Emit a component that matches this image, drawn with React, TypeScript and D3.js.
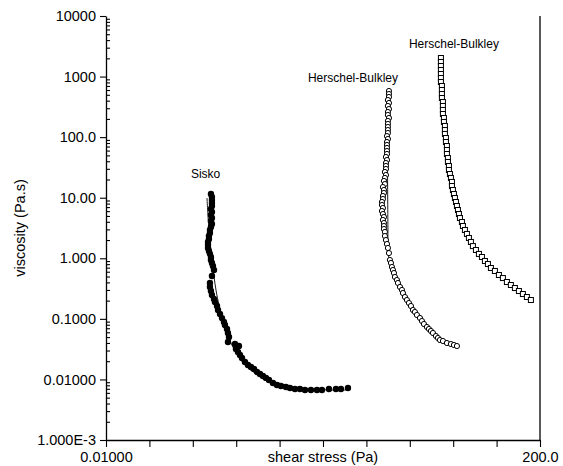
import React, { useRef, useEffect } from 'react'
import * as d3 from 'd3'

// [shear stress (Pa), viscosity (Pa.s)]
const siskoPoints: [number, number][] = [
  [0.1097, 11.5], [0.1122, 10.3], [0.1122, 9.17], [0.1122, 8.18], [0.1122, 7.3], [0.1097, 6.51],
  [0.1122, 5.81], [0.1097, 5.18], [0.1122, 4.62], [0.1097, 4.13], [0.1122, 3.68], [0.1097, 3.28],
  [0.1072, 2.93], [0.1072, 2.61], [0.1048, 2.33], [0.1048, 2.08], [0.1025, 1.86], [0.1025, 1.66],
  [0.1025, 1.48], [0.1048, 1.32], [0.1072, 1.18], [0.1097, 1.05], [0.1097, 0.937], [0.1122, 0.836],
  [0.1148, 0.746], [0.1175, 0.64], [0.1122, 0.51], [0.1072, 0.391], [0.1072, 0.336], [0.1097, 0.288],
  [0.1122, 0.2475], [0.1175, 0.213], [0.1202, 0.19], [0.1259, 0.163], [0.1288, 0.14], [0.1348, 0.12],
  [0.1411, 0.103], [0.1476, 0.0887], [0.151, 0.0792], [0.1581, 0.068], [0.1617, 0.0584], [0.1655, 0.0501],
  [0.1617, 0.0415], [0.1897, 0.0384], [0.2078, 0.0356], [0.1941, 0.0318], [0.2032, 0.0284], [0.2127, 0.0253],
  [0.2226, 0.0226], [0.2384, 0.0194], [0.2552, 0.0173], [0.2733, 0.016], [0.2927, 0.0149], [0.3133, 0.0133],
  [0.3356, 0.0123], [0.3593, 0.0114], [0.3848, 0.0106], [0.4121, 0.00978], [0.4514, 0.00873], [0.4946, 0.00809],
  [0.5418, 0.00779], [0.6072, 0.00749], [0.6653, 0.00722], [0.7457, 0.00695], [0.8358, 0.00695], [0.9369, 0.00669],
  [1.074, 0.00669], [1.232, 0.00669], [1.381, 0.00669], [1.62, 0.00695], [1.9, 0.00695], [2.13, 0.00695],
  [2.499, 0.00722],
]

const siskoFit: [number, number][] = [
  [0.1002, 9.89], [0.1048, 2.93], [0.1122, 0.937], [0.123, 0.3], [0.1317, 0.1693], [0.1411, 0.103],
  [0.1545, 0.0655], [0.1732, 0.0399], [0.1986, 0.0263], [0.233, 0.018], [0.2796, 0.01377], [0.3512, 0.01096],
  [0.4724, 0.00907], [0.6653, 0.00779], [1.05, 0.00695], [1.657, 0.00669], [2.388, 0.00669],
]

const hb1Points: [number, number][] = [
  [6.37, 578], [6.37, 515], [6.37, 460], [6.22, 410], [6.37, 366], [6.22, 327], [6.37, 291], [6.22, 260],
  [6.22, 232], [6.37, 207], [6.22, 185], [6.22, 165], [6.22, 147], [6.22, 131], [6.22, 117], [6.09, 104],
  [6.22, 93.2], [6.09, 83.1], [6.09, 74.2], [6.09, 66.2], [6.09, 59.0], [6.09, 52.7], [5.95, 47.0], [6.09, 41.9],
  [5.95, 37.4], [5.95, 33.4], [5.95, 29.8], [5.81, 26.6], [5.95, 23.7], [5.81, 21.2], [5.68, 18.9], [5.81, 16.8],
  [5.55, 15.0], [5.68, 13.4], [5.68, 11.96], [5.55, 10.67], [5.55, 9.52], [5.43, 8.5], [5.43, 7.58], [5.55, 6.76],
  [5.43, 6.03], [5.55, 5.38], [5.68, 4.8], [5.55, 4.29], [5.68, 3.82], [5.68, 3.41], [5.68, 3.04], [5.81, 2.72],
  [5.81, 2.33], [5.95, 2.0], [6.09, 1.72], [6.22, 1.48], [6.37, 1.22], [6.51, 0.937], [6.67, 0.836], [6.82, 0.718],
  [6.98, 0.64], [7.14, 0.571], [7.3, 0.491], [7.64, 0.438], [7.82, 0.391], [8.19, 0.336], [8.57, 0.3], [8.76, 0.267],
  [9.17, 0.2295], [9.6, 0.2048], [10.05, 0.1827], [10.52, 0.163], [11.01, 0.14], [11.52, 0.1297], [12.06, 0.1158],
  [12.92, 0.1033], [13.52, 0.0921], [14.15, 0.0822], [15.15, 0.0734], [15.86, 0.068], [16.6, 0.063], [17.38, 0.0584],
  [18.61, 0.0521], [19.48, 0.0483], [20.39, 0.0447], [21.83, 0.0431], [23.91, 0.0399], [26.19, 0.0384],
  [28.05, 0.037], [30.04, 0.0356],
]

const hb1Fit: [number, number][] = [
  [6.09, 535], [6.22, 3.28], [6.25, 1.3], [6.5, 0.85], [7.0, 0.6], [7.64, 0.438], [8.76, 0.26], [10.28, 0.17],
  [12.34, 0.111], [15.15, 0.075], [17.38, 0.06], [20.39, 0.048], [23.9, 0.041], [27.4, 0.037],
]

const hb2Points: [number, number][] = [
  [20.85, 2026], [20.85, 1740], [20.85, 1494], [20.85, 1284], [20.85, 1103], [20.85, 947], [20.85, 813],
  [21.33, 699], [21.33, 600], [21.33, 515], [21.33, 443], [21.82, 380], [21.82, 327], [21.82, 281], [21.82, 241],
  [22.33, 207], [22.33, 178], [22.84, 153], [22.84, 131], [22.84, 113], [23.37, 96.8], [23.37, 83.1],
  [23.91, 71.4], [23.91, 61.3], [23.91, 52.7], [24.46, 45.2], [24.46, 38.9], [25.03, 33.4], [25.03, 28.7],
  [25.61, 24.6], [26.2, 21.2], [26.81, 18.2], [26.81, 15.6], [27.42, 13.4], [28.06, 11.5], [28.7, 9.89],
  [29.37, 8.5], [30.04, 7.3], [30.74, 6.27], [31.45, 5.38], [32.18, 4.62], [33.68, 3.97], [34.45, 3.41],
  [36.06, 2.93], [37.74, 2.52], [39.5, 2.16], [41.34, 1.86], [43.27, 1.59], [46.35, 1.37], [49.62, 1.18],
  [53.15, 1.05], [56.92, 0.902], [60.94, 0.804], [65.25, 0.691], [71.47, 0.617], [78.31, 0.53], [85.79, 0.472],
  [93.97, 0.406], [102.9, 0.362], [112.8, 0.323], [123.6, 0.288], [135.4, 0.257], [148.3, 0.2295], [162.5, 0.2048],
]

const hb2Fit: [number, number][] = [
  [20.7, 2000], [21.33, 600], [21.82, 281], [22.84, 131], [23.91, 61.3], [25.03, 28.7], [27.42, 13.4],
  [30.04, 7.3], [34.45, 3.41], [41.34, 1.86], [53.15, 1.05], [71.47, 0.617], [102.9, 0.362], [162.5, 0.2048],
]

const yMajorTicks = [0.001, 0.01, 0.1, 1, 10, 100, 1000, 10000]
const yTickLabels = ['1.000E-3', '0.01000', '0.1000', '1.000', '10.00', '100.0', '1000', '10000']
const xDomain: [number, number] = [0.01, 200]
const xTickLabels = ['0.01000', '', '', '', '', '', '', '', '', '', '200.0']

// label anchors (left edge / baseline), in data units
const annotations = [
  { text: 'Sisko', x: 0.0695, y: 21.2 },
  { text: 'Herschel-Bulkley', x: 1.003, y: 813 },
  { text: 'Herschel-Bulkley', x: 10.05, y: 2960 },
]

export default function App() {
  const svgRef = useRef<SVGSVGElement>(null)

  useEffect(() => {
    const svg = d3.select(svgRef.current)
    svg.selectAll('*').remove()

    const width = 563
    const height = 466
    const margin = { top: 16, right: 23, bottom: 26, left: 106 }
    const font = 'Arial, "Liberation Sans", sans-serif'

    const x = d3.scaleLog().domain(xDomain).range([margin.left, width - margin.right])
    const y = d3.scaleLog().domain([0.001, 10000]).range([height - margin.bottom, margin.top])

    svg.append('rect').attr('width', width).attr('height', height).attr('fill', '#fff')

    // x ticks: ten equal steps on the log axis
    const [x0, x1] = x.range()
    const xTicks = xTickLabels.map((_, i) => x.invert(x0 + ((x1 - x0) * i) / (xTickLabels.length - 1)))

    const gx = svg
      .append('g')
      .attr('transform', `translate(0,${height - margin.bottom})`)
      .call(
        d3.axisBottom(x)
          .tickValues(xTicks)
          .tickFormat((_, i) => xTickLabels[i])
          .tickSize(7)
          .tickPadding(5)
          .tickSizeOuter(0)
      )

    const gy = svg
      .append('g')
      .attr('transform', `translate(${margin.left},0)`)
      .call(
        d3.axisLeft(y)
          .tickValues(yMajorTicks)
          .tickFormat((_, i) => yTickLabels[i])
          .tickSize(6)
          .tickPadding(4)
          .tickSizeOuter(0)
      )

    const minor: number[] = []
    yMajorTicks.slice(0, -1).forEach((d) => {
      for (let k = 2; k <= 9; k++) minor.push(d * k)
    })
    svg
      .append('g')
      .attr('transform', `translate(${margin.left},0)`)
      .call(d3.axisRight(y).tickValues(minor).tickFormat(() => '').tickSize(4).tickSizeOuter(0))
      .select('.domain')
      .remove()

    svg
      .append('line')
      .attr('x1', x1)
      .attr('x2', x1)
      .attr('y1', margin.top)
      .attr('y2', height - margin.bottom)
      .attr('stroke', '#000')
      .attr('stroke-width', 1.3)

    ;[gx, gy].forEach((g) => {
      g.selectAll('text').attr('font-family', font).attr('font-size', 14.5).attr('fill', '#000')
    })
    svg.selectAll('.domain').attr('stroke', '#000').attr('stroke-width', 1.3)
    svg.selectAll('.tick line').attr('stroke', '#000').attr('stroke-width', 1.1)

    svg
      .append('text')
      .attr('x', (x0 + x1) / 2)
      .attr('y', 462)
      .attr('text-anchor', 'middle')
      .attr('font-family', font)
      .attr('font-size', 14.5)
      .text('shear stress (Pa)')

    svg
      .append('text')
      .attr('transform', `translate(25,${(y.range()[0] + y.range()[1]) / 2}) rotate(-90)`)
      .attr('text-anchor', 'middle')
      .attr('font-family', font)
      .attr('font-size', 14.5)
      .text('viscosity (Pa.s)')

    const line = d3
      .line<[number, number]>()
      .x((d) => x(d[0]))
      .y((d) => y(d[1]))
      .curve(d3.curveCatmullRom.alpha(0.5))

    ;[siskoFit, hb1Fit, hb2Fit].forEach((fit) => {
      svg
        .append('path')
        .datum(fit)
        .attr('d', line)
        .attr('fill', 'none')
        .attr('stroke', '#000')
        .attr('stroke-width', 0.9)
    })

    svg
      .append('g')
      .selectAll('circle')
      .data(siskoPoints)
      .join('circle')
      .attr('cx', (d) => x(d[0]))
      .attr('cy', (d) => y(d[1]))
      .attr('r', 3.2)
      .attr('fill', '#000')

    svg
      .append('g')
      .selectAll('circle')
      .data(hb1Points)
      .join('circle')
      .attr('cx', (d) => x(d[0]))
      .attr('cy', (d) => y(d[1]))
      .attr('r', 2.6)
      .attr('fill', '#fff')
      .attr('stroke', '#000')
      .attr('stroke-width', 1)

    svg
      .append('g')
      .selectAll('rect')
      .data(hb2Points)
      .join('rect')
      .attr('x', (d) => x(d[0]) - 2.5)
      .attr('y', (d) => y(d[1]) - 2.5)
      .attr('width', 5)
      .attr('height', 5)
      .attr('fill', '#fff')
      .attr('stroke', '#000')
      .attr('stroke-width', 1)

    svg
      .append('g')
      .selectAll('text')
      .data(annotations)
      .join('text')
      .attr('x', (d) => x(d.x))
      .attr('y', (d) => y(d.y))
      .attr('font-family', font)
      .attr('font-size', 12)
      .attr('fill', '#000')
      .text((d) => d.text)
  }, [])

  return (
    <svg
      ref={svgRef}
      width={563}
      height={466}
      style={{ position: 'absolute', left: 0, top: 0, display: 'block' }}
    />
  )
}
